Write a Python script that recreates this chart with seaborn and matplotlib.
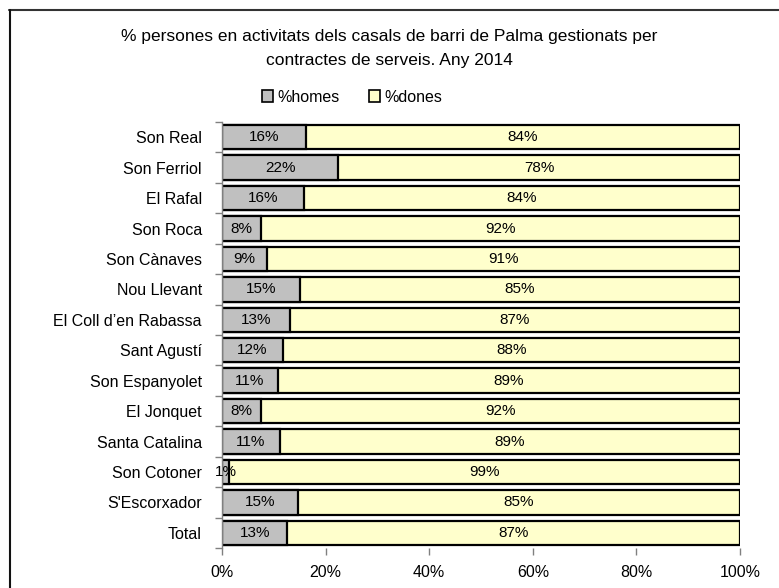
import pandas as pd
import numpy as np
import matplotlib
matplotlib.use("Agg")
import matplotlib.pyplot as plt
import seaborn as sns
from matplotlib.lines import Line2D
from matplotlib.patches import Patch

# Data
barris = ['Son Real', 'Son Ferriol', 'El Rafal', 'Son Roca', 'Son Cànaves',
          'Nou Llevant', 'El Coll d’en Rabassa', 'Sant Agustí', 'Son Espanyolet',
          'El Jonquet', 'Santa Catalina', 'Son Cotoner', "S'Escorxador", 'Total']
pct_homes = [16.2, 22.4, 15.8, 7.6, 8.7, 15.0, 13.1, 11.8, 10.8, 7.6, 11.2, 1.4, 14.6, 12.6]
pct_dones = [100 - h for h in pct_homes]

title = "% persones en activitats dels casals de barri de Palma gestionats per\ncontractes de serveis. Any 2014"

df = pd.DataFrame({'barri': barris, 'homes': pct_homes, 'dones': pct_dones})
df['total'] = df['homes'] + df['dones']

sns.set_style("white")
plt.rcParams['font.family'] = ['Liberation Sans', 'DejaVu Sans']
plt.rcParams['text.color'] = 'black'
plt.rcParams['xtick.labelcolor'] = 'black'
plt.rcParams['ytick.labelcolor'] = 'black'

fig = plt.figure(figsize=(7.79, 5.88), dpi=100)
ax = fig.add_axes([0.285, 0.068, 0.665, 0.7245])

c_homes = '#C0C0C0'
c_dones = '#FFFFCC'

# stacked: full bar in yellow, grey on top of it from 0
sns.barplot(data=df, y='barri', x='total', color=c_dones, edgecolor='black',
            linewidth=1.6, width=0.8, saturation=1, ax=ax, orient='h')
sns.barplot(data=df, y='barri', x='homes', color=c_homes, edgecolor='black',
            linewidth=1.6, width=0.8, saturation=1, ax=ax, orient='h')

# labels centred in each segment
for i, (h, d) in enumerate(zip(pct_homes, pct_dones)):
    ax.text(h / 2, i, f"{round(h):.0f}%", ha='center', va='center', fontsize=11, color='black')
    ax.text(h + d / 2, i, f"{round(d):.0f}%", ha='center', va='center', fontsize=11, color='black')

ax.set_xlim(0, 100)
ax.set_ylim(len(barris) - 0.5, -0.5)
ax.set_xticks([0, 20, 40, 60, 80, 100])
ax.set_xticklabels(['0%', '20%', '40%', '60%', '80%', '100%'], fontsize=11.5)
ax.set_yticks(range(len(barris)))
ax.set_yticklabels(barris, fontsize=11.5)
ax.set_xlabel('')
ax.set_ylabel('')

for s in ['top', 'right', 'bottom']:
    ax.spines[s].set_visible(False)
ax.spines['left'].set_color('#808080')
ax.spines['left'].set_linewidth(1)

ax.tick_params(axis='x', bottom=True, length=5, width=1, color='#808080', pad=7)
ax.tick_params(axis='y', left=False, pad=11)
# y ticks between categories
ax.set_yticks(np.arange(-0.5, len(barris), 1), minor=True)
ax.tick_params(axis='y', which='minor', left=True, length=5, width=1, color='#808080')

# title and legend
fig.text(0.5, 1 - 49 / 588, title, ha='center', va='center', fontsize=12.5,
         linespacing=1.75, color='black')
handles = [Patch(facecolor=c_homes, edgecolor='black', linewidth=1.2, label='%homes'),
           Patch(facecolor=c_dones, edgecolor='black', linewidth=1.2, label='%dones')]
fig.legend(handles=handles, loc='center', bbox_to_anchor=(352 / 779, 1 - 97 / 588), ncol=2,
           frameon=False, fontsize=11.5, handlelength=0.7, handleheight=0.7,
           handletextpad=0.3, columnspacing=1.8, labelcolor='black')

# chart border (top and left visible)
fig.add_artist(Line2D([9 / 779, 1], [1 - 9.5 / 588, 1 - 9.5 / 588], color='#333333', lw=1.5))
fig.add_artist(Line2D([9.5 / 779, 9.5 / 779], [0, 1 - 9.5 / 588], color='#111111', lw=1.5))

fig.savefig('out.png', dpi=100)
